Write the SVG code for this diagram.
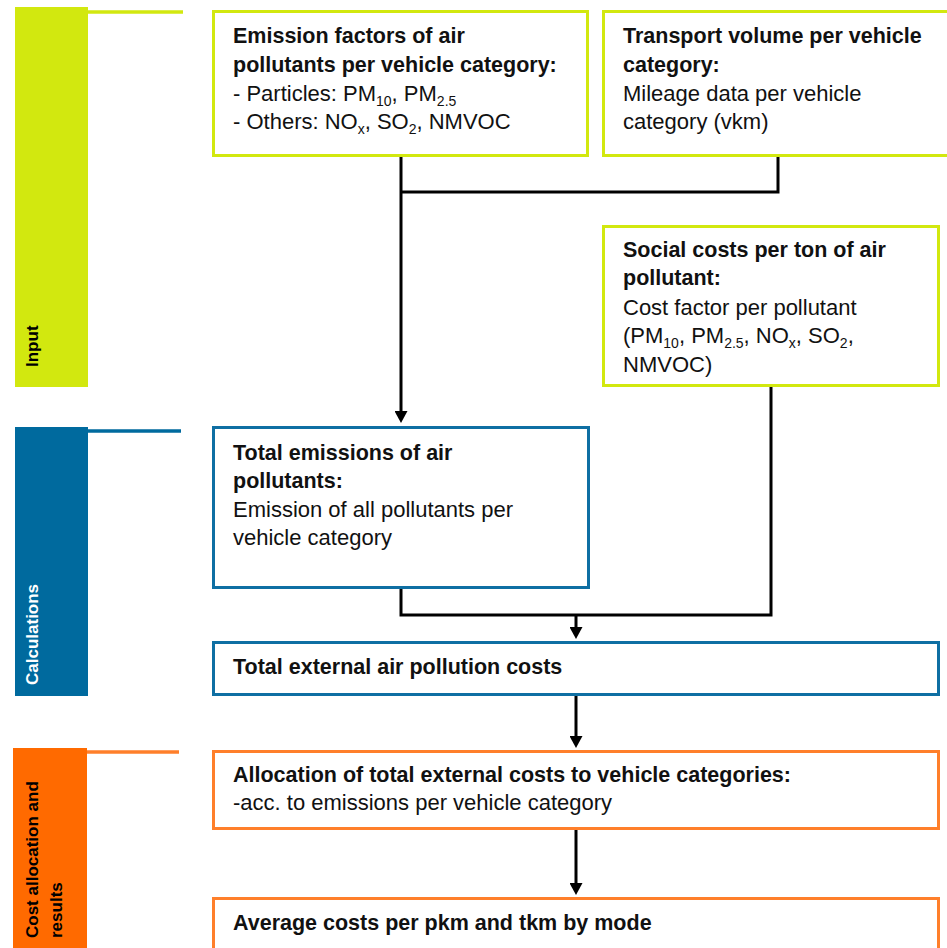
<svg xmlns="http://www.w3.org/2000/svg" width="947" height="948" viewBox="0 0 947 948">
<defs>
<style>
.t{font-family:"Liberation Sans",Arial,sans-serif;font-size:22px;fill:#111}
.b{font-weight:bold;font-size:21.5px}
.s{font-size:14px}
.side{font-family:"Liberation Sans",Arial,sans-serif;font-size:17px;font-weight:bold}
.lime{fill:#fff;stroke:#D2E80F;stroke-width:3}
.blue{fill:#fff;stroke:#0F6FA3;stroke-width:3}
.orange{fill:#fff;stroke:#FF7F2A;stroke-width:3}
.con{fill:none;stroke:#000;stroke-width:3}
</style>
<marker id="ah" viewBox="0 0 12 13" refX="2" refY="6.5" markerWidth="12" markerHeight="13" markerUnits="userSpaceOnUse" orient="auto">
<path d="M0,0 L12,6.5 L0,13 z" fill="#000"/>
</marker>
</defs>
<rect width="947" height="948" fill="#fff"/>

<g id="phase-input">
<rect x="15" y="7" width="73" height="380" fill="#D2E80F"/>
<line x1="88" y1="12" x2="183" y2="12" stroke="#D2E80F" stroke-width="3.5"/>
<text class="side" transform="translate(38,367) rotate(-90)" fill="#000">Input</text>
</g>
<g id="phase-calc">
<rect x="15" y="427" width="73" height="269" fill="#006A9E"/>
<line x1="88" y1="431" x2="181" y2="431" stroke="#006A9E" stroke-width="3.5"/>
<text class="side" transform="translate(38,685) rotate(-90)" fill="#fff">Calculations</text>
</g>
<g id="phase-alloc">
<rect x="13" y="748" width="74" height="200" fill="#FF6A00"/>
<line x1="87" y1="752" x2="179" y2="752" stroke="#FF7F2A" stroke-width="3.5"/>
<text class="side" transform="translate(38,938) rotate(-90)" fill="#000">Cost allocation and</text>
<text class="side" transform="translate(62,938) rotate(-90)" fill="#000">results</text>
</g>

<g id="connectors">
<path class="con" d="M401,157 V413" marker-end="url(#ah)"/>
<path class="con" d="M778,157 V192 H401"/>
<path class="con" d="M401,589 V615 H771 V387"/>
<path class="con" d="M576,615 V629" marker-end="url(#ah)"/>
<path class="con" d="M576,696 V738" marker-end="url(#ah)"/>
<path class="con" d="M576,830 V885" marker-end="url(#ah)"/>
</g>

<g id="emission-factors">
<rect class="lime" x="213.5" y="11.5" width="374" height="144"/>
<text class="t b" x="233" y="43">Emission factors of air</text>
<text class="t b" x="233" y="72">pollutants per vehicle category:</text>
<text class="t" x="233" y="101">- Particles: PM<tspan class="s" dy="5">10</tspan><tspan dy="-5">, PM</tspan><tspan class="s" dy="5">2.5</tspan></text>
<text class="t" x="233" y="129">- Others: NO<tspan class="s" dy="5">x</tspan><tspan dy="-5">, SO</tspan><tspan class="s" dy="5">2</tspan><tspan dy="-5">, NMVOC</tspan></text>
</g>

<g id="transport-volume">
<rect class="lime" x="603.5" y="11.5" width="350" height="144"/>
<text class="t b" x="623" y="43">Transport volume per vehicle</text>
<text class="t b" x="623" y="72">category:</text>
<text class="t" x="623" y="101">Mileage data per vehicle</text>
<text class="t" x="623" y="129">category (vkm)</text>
</g>

<g id="social-costs">
<rect class="lime" x="603.5" y="226.5" width="335" height="159"/>
<text class="t b" x="623" y="257">Social costs per ton of air</text>
<text class="t b" x="623" y="285">pollutant:</text>
<text class="t" x="623" y="315">Cost factor per pollutant</text>
<text class="t" x="623" y="343">(PM<tspan class="s" dy="5">10</tspan><tspan dy="-5">, PM</tspan><tspan class="s" dy="5">2.5</tspan><tspan dy="-5">, NO</tspan><tspan class="s" dy="5">x</tspan><tspan dy="-5">, SO</tspan><tspan class="s" dy="5">2</tspan><tspan dy="-5">,</tspan></text>
<text class="t" x="623" y="372">NMVOC)</text>
</g>

<g id="total-emissions">
<rect class="blue" x="213.5" y="427.5" width="375" height="160"/>
<text class="t b" x="233" y="460">Total emissions of air</text>
<text class="t b" x="233" y="488">pollutants:</text>
<text class="t" x="233" y="517">Emission of all pollutants per</text>
<text class="t" x="233" y="545">vehicle category</text>
</g>

<g id="total-external-costs">
<rect class="blue" x="213.5" y="642.5" width="725" height="52"/>
<text class="t b" x="233" y="674">Total external air pollution costs</text>
</g>

<g id="allocation">
<rect class="orange" x="213.5" y="751.5" width="725" height="77"/>
<text class="t b" x="233" y="782">Allocation of total external costs to vehicle categories:</text>
<text class="t" x="233" y="810">-acc. to emissions per vehicle category</text>
</g>

<g id="average-costs">
<rect class="orange" x="213.5" y="898.5" width="725" height="60"/>
<text class="t b" x="233" y="930">Average costs per pkm and tkm by mode</text>
</g>
</svg>
